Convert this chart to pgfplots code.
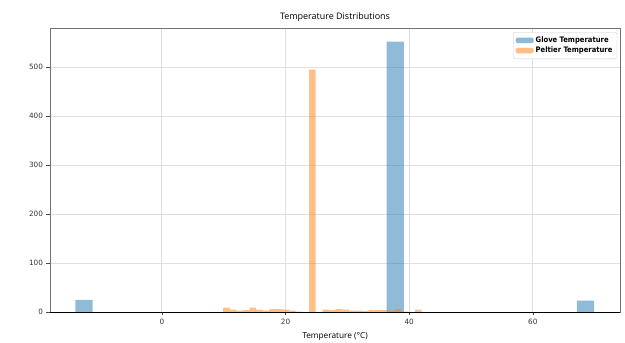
\documentclass[border=0pt]{standalone}
\usepackage{pgfplots}
\pgfplotsset{compat=1.18}
\usepackage{fontspec}
\setmainfont{Open Sans}
\newfontfamily\tickfont{DejaVu Sans}
\newfontfamily\legfont{DejaVu Sans Condensed}
\definecolor{tabblue}{HTML}{1F77B4}
\definecolor{taborange}{HTML}{FF7F0E}
\pgfplotstableread{
x y
-14.000 25
-11.203 0
-8.406 0
-5.609 0
-2.812 0
-0.015 0
2.782 0
5.579 0
8.376 0
11.173 0
13.970 0
16.767 0
19.564 0
22.361 0
25.158 0
27.955 0
30.752 0
33.549 0
36.346 552
39.143 0
41.940 0
44.737 0
47.534 0
50.331 0
53.128 0
55.925 0
58.722 0
61.519 0
64.316 0
67.113 23
69.910 0
}\glove
\pgfplotstableread{
x y
9.90 9
10.97 5
12.04 3
13.11 4
14.18 9
15.25 5
16.32 3
17.39 6
18.46 6
19.53 5
20.60 3
21.67 1
22.74 0
23.81 495
24.88 0
25.95 5
27.02 4
28.09 6
29.16 5
30.23 3
31.30 3
32.37 2
33.44 4
34.51 4
35.58 4
36.65 3
37.72 6
38.79 1
39.86 0
40.93 5
42.00 0
}\peltier
\begin{document}
\begin{tikzpicture}
\begin{axis}[
  scale only axis,
  width=570bp, height=284bp,
  xmin=-18.1, xmax=74.1, ymin=0, ymax=580,
  xtick={0,20,40,60}, ytick={0,100,...,500},
  grid=major,
  major grid style={gray!25, line width=1pt},
  axis line style={black!55},
  tick style={black!70, line width=0.5pt},
  tick align=outside, tick pos=left,
  major tick length=3.5bp,
  ticklabel style={font=\tickfont\fontsize{7.3}{8}\selectfont, text=black!80},
  /pgf/number format/assume math mode=true,
  xlabel={Temperature (°C)},
  xlabel style={font=\fontsize{8.3}{9}\selectfont, yshift=-1bp},
  title={Temperature Distributions},
  title style={font=\fontsize{9}{10}\selectfont, yshift=-3bp},
  legend style={at={(0.995,0.985)}, anchor=north east, draw=black!20, rounded corners=1.5pt,
    font=\legfont\bfseries\fontsize{7.6}{8.6}\selectfont, row sep=-1pt, inner sep=2.5pt},
  legend cell align=left,
  legend image code/.code={\fill[#1] (0bp,-2.5bp) rectangle (18bp,3bp);},
]
\addplot[ybar interval, draw=none, fill=tabblue, fill opacity=0.5] table {\glove};
\addlegendentry{Glove Temperature}
\addplot[ybar interval, draw=none, fill=taborange, fill opacity=0.5] table {\peltier};
\addlegendentry{Peltier Temperature}
\draw[black, line width=0.8pt] (axis cs:-18.1,0) -- (axis cs:74.1,0);
\end{axis}
\pgfresetboundingbox
\useasboundingbox (current axis.south west) ++(-50bp,-31bp) rectangle ([xshift=5bp,yshift=28bp]current axis.north east);
\end{tikzpicture}
\end{document}
